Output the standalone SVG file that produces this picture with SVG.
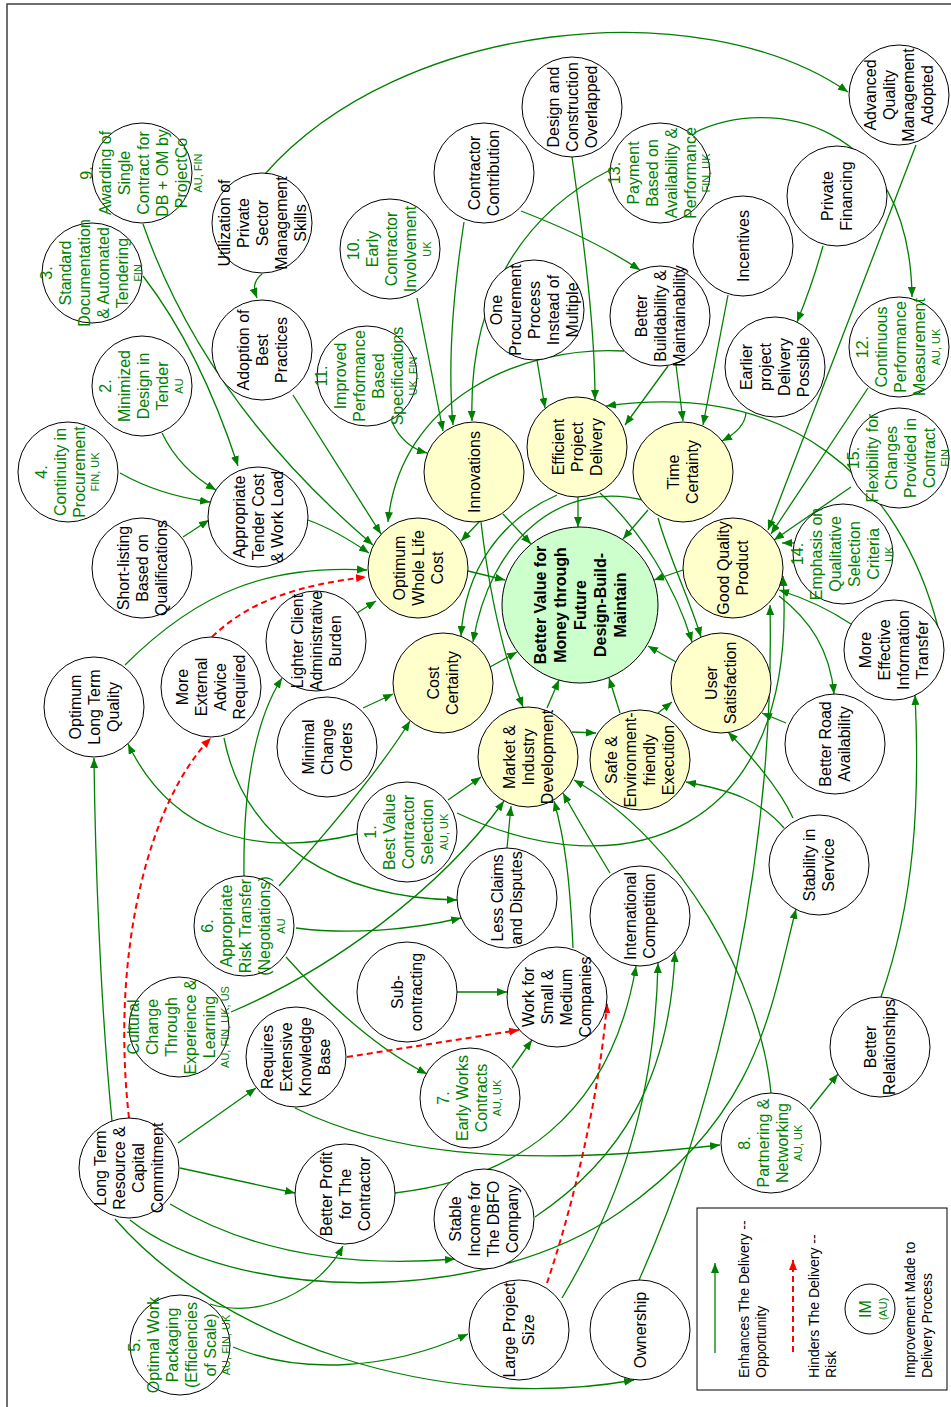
<svg xmlns="http://www.w3.org/2000/svg" width="951" height="1407" viewBox="0 0 951 1407">
<defs>
<marker id="ah" markerWidth="10" markerHeight="8" refX="10" refY="4" orient="auto" markerUnits="userSpaceOnUse"><path d="M0,0 L10,4 L0,8 z" fill="#008000"/></marker>
<marker id="ahr" markerWidth="10" markerHeight="8" refX="10" refY="4" orient="auto" markerUnits="userSpaceOnUse"><path d="M0,0 L10,4 L0,8 z" fill="#ff0000"/></marker>
<style>
.nd{fill:#fff;stroke:#000;stroke-width:1}
.y{fill:#ffffcc;stroke:#000;stroke-width:1}
.gc{fill:#ccffcc;stroke:#000;stroke-width:1}
text{font-family:"Liberation Sans",Arial,sans-serif;font-size:16px;text-anchor:middle;fill:#000}
.g text,text.g{fill:#008000}
.sm{font-size:11px}
.b{font-weight:bold}
.e{fill:none;stroke:#008000;stroke-width:1.3;marker-end:url(#ah)}
.r{fill:none;stroke:#ff0000;stroke-width:2;stroke-dasharray:6 4;marker-end:url(#ahr)}
.lg{text-anchor:start;font-size:14px}
</style>
</defs>
<rect x="7" y="4" width="960" height="1420" fill="#fff" stroke="#404040" stroke-width="1.5"/>

<g id="connectors">
<path class="e" d="M265 174 C400 20 700 -10 848 92"/>
<path class="e" d="M262 274 C252 282 254 290 257 298"/>
<path class="e" d="M143 276 Q200 350 238 466"/>
<path class="e" d="M143 224 C180 330 250 440 373 545"/>
<path class="e" d="M293 395 L381 534"/>
<path class="e" d="M308 520 C330 528 350 540 369 553"/>
<path class="e" d="M624 351 C520 345 400 400 388 522"/>
<path class="e" d="M417 298 L443 431"/>
<path class="e" d="M464 222 C452 300 448 370 453 425"/>
<path class="e" d="M610 170 C530 210 468 290 472 421"/>
<path class="e" d="M392 422 C400 440 412 449 427 453"/>
<path class="e" d="M125 665 C200 590 270 565 367 570"/>
<path class="r" d="M212 637 C250 600 300 585 366 577"/>
<path class="e" d="M357 613 L376 601"/>
<path class="e" d="M363 708 L393 694"/>
<path class="e" d="M244 876 C243 790 255 720 282 678"/>
<path class="e" d="M279 886 C320 840 380 770 410 721"/>
<path class="e" d="M296 928 C350 935 410 930 461 918"/>
<path class="e" d="M286 957 C320 995 370 1045 427 1074"/>
<path class="e" d="M224 738 C245 845 340 898 457 900"/>
<path class="e" d="M357 834 C250 860 170 830 128 744"/>
<path class="e" d="M448 800 L481 777"/>
<path class="e" d="M457 813 C620 890 800 840 783 576"/>
<path class="e" d="M231 1012 C330 970 440 890 504 801"/>
<path class="e" d="M507 848 L511 806"/>
<path class="e" d="M573 948 C570 880 565 840 554 801"/>
<path class="e" d="M610 873 C590 840 575 815 563 793"/>
<path class="e" d="M771 1093 C760 980 680 840 574 780"/>
<path class="e" d="M572 732 L596 733"/>
<path class="e" d="M457 992 L507 992"/>
<path class="r" d="M347 1057 L519 1030"/>
<path class="e" d="M512 1068 L532 1040"/>
<path class="r" d="M547 1283 C575 1200 600 1090 607 1003"/>
<path class="r" d="M129 1118 C110 950 150 800 211 738"/>
<path class="e" d="M112 1121 C100 1000 95 850 94 758"/>
<path class="e" d="M178 1143 L256 1088"/>
<path class="e" d="M180 1168 L295 1193"/>
<path class="e" d="M170 1204 C230 1240 320 1270 455 1259"/>
<path class="e" d="M130 1220 C230 1300 480 1310 620 1212 S770 1010 796 909"/>
<path class="e" d="M115 1219 C220 1340 440 1415 634 1380"/>
<path class="e" d="M210 1304 C260 1320 320 1290 343 1246"/>
<path class="e" d="M233 1347 C300 1375 390 1370 468 1334"/>
<path class="e" d="M295 1108 C380 1150 500 1170 720 1145"/>
<path class="e" d="M395 1193 C510 1180 610 1120 636 966"/>
<path class="e" d="M535 1217 C620 1160 670 1080 675 952"/>
<path class="e" d="M562 1298 C620 1200 655 1100 658 963"/>
<path class="e" d="M639 1280 C720 1100 775 850 770 605"/>
<path class="e" d="M793 818 C780 790 755 760 728 732"/>
<path class="e" d="M784 828 C760 800 730 790 686 782"/>
<path class="e" d="M786 723 L762 713"/>
<path class="e" d="M779 596 C810 620 830 650 834 694"/>
<path class="e" d="M658 713 L672 702"/>
<path class="e" d="M881 997 C915 900 920 800 915 695"/>
<path class="e" d="M810 1109 L838 1074"/>
<path class="e" d="M694 133 C770 95 910 120 912 297"/>
<path class="e" d="M823 246 C815 275 808 295 797 322"/>
<path class="e" d="M521 211 C570 230 610 250 640 270"/>
<path class="e" d="M916 145 L768 530"/>
<path class="e" d="M868 388 L771 534"/>
<path class="e" d="M851 487 L774 540"/>
<path class="e" d="M795 543 L782 543"/>
<path class="e" d="M851 624 C830 610 810 600 779 590"/>
<path class="e" d="M938 627 C900 480 790 380 606 406"/>
<path class="e" d="M668 366 L625 425"/>
<path class="e" d="M676 365 L683 421"/>
<path class="e" d="M728 295 L703 425"/>
<path class="e" d="M746 413 C745 425 735 434 722 441"/>
<path class="e" d="M537 360 L545 408"/>
<path class="e" d="M572 157 C585 250 595 330 595 400"/>
<path class="e" d="M658 518 C670 560 690 600 701 637"/>
<path class="e" d="M600 493 C640 530 675 585 692 642"/>
<path class="e" d="M557 495 C500 520 465 570 461 636"/>
<path class="e" d="M643 500 C560 480 490 540 473 642"/>
<path class="e" d="M503 514 L531 544"/>
<path class="e" d="M578 497 L578 527"/>
<path class="e" d="M468 571 L505 580"/>
<path class="e" d="M648 510 L623 539"/>
<path class="e" d="M683 570 L654 580"/>
<path class="e" d="M676 662 L648 646"/>
<path class="e" d="M620 713 L609 678"/>
<path class="e" d="M547 708 L559 680"/>
<path class="e" d="M490 667 L517 652"/>
<path class="e" d="M481 522 C490 600 505 660 523 707"/>
<path class="e" d="M480 521 L461 541"/>
<path class="e" d="M162 433 C175 460 195 478 216 490"/>
<path class="e" d="M120 473 C150 490 180 498 210 502"/>
<path class="e" d="M183 537 L209 520"/>
</g>

<!-- improvement nodes (green labels) -->
<g id="imp1" class="g"><circle class="nd" cx="407" cy="832" r="50"/><text transform="translate(407 832) rotate(-90)"><tspan x="0" y="-31">1.</tspan><tspan x="0" y="-12">Best Value</tspan><tspan x="0" y="7">Contractor</tspan><tspan x="0" y="26">Selection</tspan><tspan x="0" y="40.5" class="sm">AU, UK</tspan></text></g>
<g id="imp2" class="g"><circle class="nd" cx="142" cy="386" r="50"/><text transform="translate(142 386) rotate(-90)"><tspan x="0" y="-31">2.</tspan><tspan x="0" y="-12">Minimized</tspan><tspan x="0" y="7">Design in</tspan><tspan x="0" y="26">Tender</tspan><tspan x="0" y="40.5" class="sm">AU</tspan></text></g>
<g id="imp3" class="g"><circle class="nd" cx="92" cy="273" r="50"/><text transform="translate(92 273) rotate(-90)"><tspan x="0" y="-40.5">3.</tspan><tspan x="0" y="-21.5">Standard</tspan><tspan x="0" y="-2.5">Documentation</tspan><tspan x="0" y="16.5">&amp; Automated</tspan><tspan x="0" y="35.5">Tendering</tspan><tspan x="0" y="50" class="sm">FIN</tspan></text></g>
<g id="imp4" class="g"><circle class="nd" cx="68" cy="472" r="50"/><text transform="translate(68 472) rotate(-90)"><tspan x="0" y="-21.5">4.</tspan><tspan x="0" y="-2.5">Continuity in</tspan><tspan x="0" y="16.5">Procurement</tspan><tspan x="0" y="31" class="sm">FIN, UK</tspan></text></g>
<g id="imp5" class="g"><circle class="nd" cx="180" cy="1345" r="50"/><text transform="translate(180 1345) rotate(-90)"><tspan x="0" y="-40.5">5.</tspan><tspan x="0" y="-21.5">Optimal Work</tspan><tspan x="0" y="-2.5">Packaging</tspan><tspan x="0" y="16.5">(Efficiencies</tspan><tspan x="0" y="35.5">of Scale)</tspan><tspan x="0" y="50" class="sm">AU, FIN, UK</tspan></text></g>
<g id="imp6" class="g"><circle class="nd" cx="244" cy="926" r="50"/><text transform="translate(244 926) rotate(-90)"><tspan x="0" y="-31">6.</tspan><tspan x="0" y="-12">Appropriate</tspan><tspan x="0" y="7">Risk Transfer</tspan><tspan x="0" y="26">(Negotiations)</tspan><tspan x="0" y="40.5" class="sm">AU</tspan></text></g>
<g id="imp7" class="g"><circle class="nd" cx="470" cy="1098" r="50"/><text transform="translate(470 1098) rotate(-90)"><tspan x="0" y="-21.5">7.</tspan><tspan x="0" y="-2.5">Early Works</tspan><tspan x="0" y="16.5">Contracts</tspan><tspan x="0" y="31" class="sm">AU, UK</tspan></text></g>
<g id="imp8" class="g"><circle class="nd" cx="771" cy="1143" r="50"/><text transform="translate(771 1143) rotate(-90)"><tspan x="0" y="-21.5">8.</tspan><tspan x="0" y="-2.5">Partnering &amp;</tspan><tspan x="0" y="16.5">Networking</tspan><tspan x="0" y="31" class="sm">AU, UK</tspan></text></g>
<g id="imp9" class="g"><circle class="nd" cx="142" cy="173" r="50"/><text transform="translate(142 173) rotate(-90)"><tspan x="0" y="-50">9.</tspan><tspan x="0" y="-31">Awarding of</tspan><tspan x="0" y="-12">Single</tspan><tspan x="0" y="7">Contract for</tspan><tspan x="0" y="26">DB + OM by</tspan><tspan x="0" y="45">ProjectCo</tspan><tspan x="0" y="59.5" class="sm">AU, FIN</tspan></text></g>
<g id="imp10" class="g"><circle class="nd" cx="390" cy="249" r="50"/><text transform="translate(390 249) rotate(-90)"><tspan x="0" y="-31">10.</tspan><tspan x="0" y="-12">Early</tspan><tspan x="0" y="7">Contractor</tspan><tspan x="0" y="26">Involvement</tspan><tspan x="0" y="40.5" class="sm">UK</tspan></text></g>
<g id="imp11" class="g"><circle class="nd" cx="367" cy="376" r="50"/><text transform="translate(367 376) rotate(-90)"><tspan x="0" y="-40.5">11.</tspan><tspan x="0" y="-21.5">Improved</tspan><tspan x="0" y="-2.5">Performance</tspan><tspan x="0" y="16.5">Based</tspan><tspan x="0" y="35.5">Specifications</tspan><tspan x="0" y="50" class="sm">UK, FIN</tspan></text></g>
<g id="imp12" class="g"><circle class="nd" cx="899" cy="347" r="50"/><text transform="translate(899 347) rotate(-90)"><tspan x="0" y="-31">12.</tspan><tspan x="0" y="-12">Continuous</tspan><tspan x="0" y="7">Performance</tspan><tspan x="0" y="26">Measurement</tspan><tspan x="0" y="40.5" class="sm">AU, UK</tspan></text></g>
<g id="imp13" class="g"><circle class="nd" cx="660" cy="173" r="50"/><text transform="translate(660 173) rotate(-90)"><tspan x="0" y="-40.5">13.</tspan><tspan x="0" y="-21.5">Payment</tspan><tspan x="0" y="-2.5">Based on</tspan><tspan x="0" y="16.5">Availability &amp;</tspan><tspan x="0" y="35.5">Performance</tspan><tspan x="0" y="50" class="sm">FIN, UK</tspan></text></g>
<g id="imp14" class="g"><circle class="nd" cx="843" cy="554" r="50"/><text transform="translate(843 554) rotate(-90)"><tspan x="0" y="-40.5">14.</tspan><tspan x="0" y="-21.5">Emphasis on</tspan><tspan x="0" y="-2.5">Qualitative</tspan><tspan x="0" y="16.5">Selection</tspan><tspan x="0" y="35.5">Criteria</tspan><tspan x="0" y="50" class="sm">UK</tspan></text></g>
<g id="imp15" class="g"><circle class="nd" cx="899" cy="458" r="50"/><text transform="translate(899 458) rotate(-90)"><tspan x="0" y="-40.5">15.</tspan><tspan x="0" y="-21.5">Flexibility for</tspan><tspan x="0" y="-2.5">Changes</tspan><tspan x="0" y="16.5">Provided in</tspan><tspan x="0" y="35.5">Contract</tspan><tspan x="0" y="50" class="sm">FIN</tspan></text></g>
<g id="cultural-change" class="g"><circle class="nd" cx="179" cy="1027" r="50"/><text transform="translate(179 1027) rotate(-90)"><tspan x="0" y="-40.5">Cultural</tspan><tspan x="0" y="-21.5">Change</tspan><tspan x="0" y="-2.5">Through</tspan><tspan x="0" y="16.5">Experience &amp;</tspan><tspan x="0" y="35.5">Learning</tspan><tspan x="0" y="50" class="sm">AU, FIN, UK, US</tspan></text></g>

<!-- factor nodes -->
<g id="utilization"><circle class="nd" cx="262" cy="223" r="50"/><text transform="translate(262 223) rotate(-90)"><tspan x="0" y="-32.5">Utilization of</tspan><tspan x="0" y="-13.5">Private</tspan><tspan x="0" y="5.5">Sector</tspan><tspan x="0" y="24.5">Management</tspan><tspan x="0" y="43.5">Skills</tspan></text></g>
<g id="adoption"><circle class="nd" cx="262" cy="350" r="50"/><text transform="translate(262 350) rotate(-90)"><tspan x="0" y="-13.5">Adoption of</tspan><tspan x="0" y="5.5">Best</tspan><tspan x="0" y="24.5">Practices</tspan></text></g>
<g id="contractor-contribution"><circle class="nd" cx="484" cy="173" r="50"/><text transform="translate(484 173) rotate(-90)"><tspan x="0" y="-4">Contractor</tspan><tspan x="0" y="15">Contribution</tspan></text></g>
<g id="overlapped"><circle class="nd" cx="572" cy="107" r="50"/><text transform="translate(572 107) rotate(-90)"><tspan x="0" y="-13.5">Design and</tspan><tspan x="0" y="5.5">Construction</tspan><tspan x="0" y="24.5">Overlapped</tspan></text></g>
<g id="one-procurement"><circle class="nd" cx="534" cy="310" r="50"/><text transform="translate(534 310) rotate(-90)"><tspan x="0" y="-32.5">One</tspan><tspan x="0" y="-13.5">Procurement</tspan><tspan x="0" y="5.5">Process</tspan><tspan x="0" y="24.5">Instead of</tspan><tspan x="0" y="43.5">Multiple</tspan></text></g>
<g id="buildability"><circle class="nd" cx="660" cy="316" r="50"/><text transform="translate(660 316) rotate(-90)"><tspan x="0" y="-13.5">Better</tspan><tspan x="0" y="5.5">Buildability &amp;</tspan><tspan x="0" y="24.5">Maintainability</tspan></text></g>
<g id="incentives"><circle class="nd" cx="743" cy="246" r="50"/><text transform="translate(743 246) rotate(-90)"><tspan x="0" y="5.5">Incentives</tspan></text></g>
<g id="private-financing"><circle class="nd" cx="837" cy="196" r="50"/><text transform="translate(837 196) rotate(-90)"><tspan x="0" y="-4">Private</tspan><tspan x="0" y="15">Financing</tspan></text></g>
<g id="advanced-qm"><circle class="nd" cx="899" cy="95" r="50"/><text transform="translate(899 95) rotate(-90)"><tspan x="0" y="-23">Advanced</tspan><tspan x="0" y="-4">Quality</tspan><tspan x="0" y="15">Management</tspan><tspan x="0" y="34">Adopted</tspan></text></g>
<g id="earlier-delivery"><circle class="nd" cx="775" cy="367" r="50"/><text transform="translate(775 367) rotate(-90)"><tspan x="0" y="-23">Earlier</tspan><tspan x="0" y="-4">project</tspan><tspan x="0" y="15">Delivery</tspan><tspan x="0" y="34">Possible</tspan></text></g>
<g id="tender-cost"><circle class="nd" cx="258" cy="517" r="50"/><text transform="translate(258 517) rotate(-90)"><tspan x="0" y="-13.5">Appropriate</tspan><tspan x="0" y="5.5">Tender Cost</tspan><tspan x="0" y="24.5">&amp; Work Load</tspan></text></g>
<g id="short-listing"><circle class="nd" cx="142" cy="568" r="50"/><text transform="translate(142 568) rotate(-90)"><tspan x="0" y="-13.5">Short-listing</tspan><tspan x="0" y="5.5">Based on</tspan><tspan x="0" y="24.5">Qualifications</tspan></text></g>
<g id="long-term-quality"><circle class="nd" cx="94" cy="707" r="50"/><text transform="translate(94 707) rotate(-90)"><tspan x="0" y="-13.5">Optimum</tspan><tspan x="0" y="5.5">Long Term</tspan><tspan x="0" y="24.5">Quality</tspan></text></g>
<g id="external-advice"><circle class="nd" cx="211" cy="687" r="50"/><text transform="translate(211 687) rotate(-90)"><tspan x="0" y="-23">More</tspan><tspan x="0" y="-4">External</tspan><tspan x="0" y="15">Advice</tspan><tspan x="0" y="34">Required</tspan></text></g>
<g id="lighter-burden"><circle class="nd" cx="316" cy="641" r="50"/><text transform="translate(316 641) rotate(-90)"><tspan x="0" y="-13.5">Lighter Client</tspan><tspan x="0" y="5.5">Administrative</tspan><tspan x="0" y="24.5">Burden</tspan></text></g>
<g id="minimal-change"><circle class="nd" cx="327" cy="747" r="50"/><text transform="translate(327 747) rotate(-90)"><tspan x="0" y="-13.5">Minimal</tspan><tspan x="0" y="5.5">Change</tspan><tspan x="0" y="24.5">Orders</tspan></text></g>
<g id="less-claims"><circle class="nd" cx="507" cy="898" r="50"/><text transform="translate(507 898) rotate(-90)"><tspan x="0" y="-4">Less Claims</tspan><tspan x="0" y="15">and Disputes</tspan></text></g>
<g id="subcontracting"><circle class="nd" cx="407" cy="992" r="50"/><text transform="translate(407 992) rotate(-90)"><tspan x="0" y="-4">Sub-</tspan><tspan x="0" y="15">contracting</tspan></text></g>
<g id="small-medium"><circle class="nd" cx="557" cy="997" r="50"/><text transform="translate(557 997) rotate(-90)"><tspan x="0" y="-23">Work for</tspan><tspan x="0" y="-4">Small &amp;</tspan><tspan x="0" y="15">Medium</tspan><tspan x="0" y="34">Companies</tspan></text></g>
<g id="international"><circle class="nd" cx="640" cy="916" r="50"/><text transform="translate(640 916) rotate(-90)"><tspan x="0" y="-4">International</tspan><tspan x="0" y="15">Competition</tspan></text></g>
<g id="knowledge-base"><circle class="nd" cx="296" cy="1057" r="50"/><text transform="translate(296 1057) rotate(-90)"><tspan x="0" y="-23">Requires</tspan><tspan x="0" y="-4">Extensive</tspan><tspan x="0" y="15">Knowledge</tspan><tspan x="0" y="34">Base</tspan></text></g>
<g id="long-term-commitment"><circle class="nd" cx="129" cy="1168" r="50"/><text transform="translate(129 1168) rotate(-90)"><tspan x="0" y="-23">Long Term</tspan><tspan x="0" y="-4">Resource &amp;</tspan><tspan x="0" y="15">Capital</tspan><tspan x="0" y="34">Commitment</tspan></text></g>
<g id="better-profit"><circle class="nd" cx="345" cy="1194" r="50"/><text transform="translate(345 1194) rotate(-90)"><tspan x="0" y="-13.5">Better Profit</tspan><tspan x="0" y="5.5">for The</tspan><tspan x="0" y="24.5">Contractor</tspan></text></g>
<g id="stable-income"><circle class="nd" cx="484" cy="1219" r="50"/><text transform="translate(484 1219) rotate(-90)"><tspan x="0" y="-23">Stable</tspan><tspan x="0" y="-4">Income for</tspan><tspan x="0" y="15">The DBFO</tspan><tspan x="0" y="34">Company</tspan></text></g>
<g id="large-project"><circle class="nd" cx="519" cy="1330" r="50"/><text transform="translate(519 1330) rotate(-90)"><tspan x="0" y="-4">Large Project</tspan><tspan x="0" y="15">Size</tspan></text></g>
<g id="ownership"><circle class="nd" cx="640" cy="1330" r="50"/><text transform="translate(640 1330) rotate(-90)"><tspan x="0" y="5.5">Ownership</tspan></text></g>
<g id="relationships"><circle class="nd" cx="880" cy="1047" r="50"/><text transform="translate(880 1047) rotate(-90)"><tspan x="0" y="-4">Better</tspan><tspan x="0" y="15">Relationships</tspan></text></g>
<g id="stability"><circle class="nd" cx="819" cy="865" r="50"/><text transform="translate(819 865) rotate(-90)"><tspan x="0" y="-4">Stability in</tspan><tspan x="0" y="15">Service</tspan></text></g>
<g id="road-availability"><circle class="nd" cx="835" cy="744" r="50"/><text transform="translate(835 744) rotate(-90)"><tspan x="0" y="-4">Better Road</tspan><tspan x="0" y="15">Availability</tspan></text></g>
<g id="information-transfer"><circle class="nd" cx="894" cy="650" r="50"/><text transform="translate(894 650) rotate(-90)"><tspan x="0" y="-23">More</tspan><tspan x="0" y="-4">Effective</tspan><tspan x="0" y="15">Information</tspan><tspan x="0" y="34">Transfer</tspan></text></g>

<!-- outcome nodes -->
<g id="innovations"><circle class="y" cx="474" cy="472" r="50"/><text transform="translate(474 472) rotate(-90)"><tspan x="0" y="5.5">Innovations</tspan></text></g>
<g id="efficient-delivery"><circle class="y" cx="577" cy="447" r="50"/><text transform="translate(577 447) rotate(-90)"><tspan x="0" y="-13.5">Efficient</tspan><tspan x="0" y="5.5">Project</tspan><tspan x="0" y="24.5">Delivery</tspan></text></g>
<g id="time-certainty"><circle class="y" cx="683" cy="472" r="50"/><text transform="translate(683 472) rotate(-90)"><tspan x="0" y="-4">Time</tspan><tspan x="0" y="15">Certainty</tspan></text></g>
<g id="whole-life-cost"><circle class="y" cx="418" cy="568" r="50"/><text transform="translate(418 568) rotate(-90)"><tspan x="0" y="-13.5">Optimum</tspan><tspan x="0" y="5.5">Whole Life</tspan><tspan x="0" y="24.5">Cost</tspan></text></g>
<g id="good-quality"><circle class="y" cx="733" cy="568" r="50"/><text transform="translate(733 568) rotate(-90)"><tspan x="0" y="-4">Good Quality</tspan><tspan x="0" y="15">Product</tspan></text></g>
<g id="cost-certainty"><circle class="y" cx="443" cy="683" r="50"/><text transform="translate(443 683) rotate(-90)"><tspan x="0" y="-4">Cost</tspan><tspan x="0" y="15">Certainty</tspan></text></g>
<g id="user-satisfaction"><circle class="y" cx="721" cy="683" r="50"/><text transform="translate(721 683) rotate(-90)"><tspan x="0" y="-4">User</tspan><tspan x="0" y="15">Satisfaction</tspan></text></g>
<g id="market-development"><circle class="y" cx="528" cy="757" r="50"/><text transform="translate(528 757) rotate(-90)"><tspan x="0" y="-13.5">Market &amp;</tspan><tspan x="0" y="5.5">Industry</tspan><tspan x="0" y="24.5">Development</tspan></text></g>
<g id="safe-execution"><circle class="y" cx="640" cy="760" r="50"/><text transform="translate(640 760) rotate(-90)"><tspan x="0" y="-23">Safe &amp;</tspan><tspan x="0" y="-4">Environment-</tspan><tspan x="0" y="15">friendly</tspan><tspan x="0" y="34">Execution</tspan></text></g>

<g id="better-value"><circle class="gc" cx="580" cy="605" r="78"/><text class="b" transform="translate(580 605) rotate(-90)"><tspan x="0" y="-34.5">Better Value for</tspan><tspan x="0" y="-14.5">Money through</tspan><tspan x="0" y="5.5">Future</tspan><tspan x="0" y="25.5">Design-Build-</tspan><tspan x="0" y="45.5">Maintain</tspan></text></g>

<!-- legend -->
<g id="legend">
<rect x="697" y="1208" width="250" height="182" fill="none" stroke="#000" stroke-width="1"/>
<path class="e" d="M715 1353 L715 1263"/>
<text class="lg" transform="translate(744 1378) rotate(-90)"><tspan x="0" y="5">Enhances  The Delivery --</tspan><tspan x="0" y="21.7">Opportunity</tspan></text>
<path class="r" d="M793 1352 L793 1260"/>
<text class="lg" transform="translate(814 1378) rotate(-90)"><tspan x="0" y="5">Hinders The Delivery --</tspan><tspan x="0" y="21.7">Risk</tspan></text>
<circle class="nd" cx="870" cy="1309" r="25"/>
<text class="g" transform="translate(870 1309) rotate(-90)"><tspan x="0" y="1">IM</tspan><tspan x="0" y="17" class="sm">(AU)</tspan></text>
<text class="lg" transform="translate(910 1378) rotate(-90)"><tspan x="0" y="5">Improvement Made to</tspan><tspan x="0" y="21.7">Delivery Process</tspan></text>
</g>
</svg>
